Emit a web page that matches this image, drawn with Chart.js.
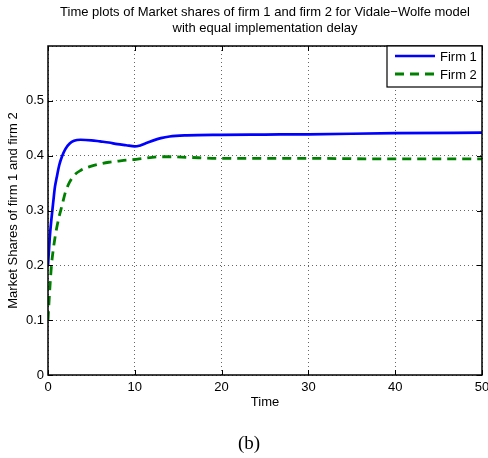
<!DOCTYPE html>
<html>
<head>
<meta charset="utf-8">
<script src="https://cdn.jsdelivr.net/npm/chart.js@4.4.0/dist/chart.umd.min.js"></script>
<style>
  body { margin: 0; background: #fff; }
  canvas { display: block; }
</style>
</head>
<body>
<canvas id="sharesChart" width="488" height="458"></canvas>
<script>
// Data
const times = [0, 0.2, 0.4, 0.6, 0.8, 1, 1.3, 1.6, 2, 2.5, 3, 3.75, 5, 6, 7, 8, 9, 10, 10.5, 11, 12, 13, 14, 16, 20, 25, 30, 40, 50];
const firm1 = [0.2, 0.25, 0.285, 0.315, 0.343, 0.36, 0.383, 0.398, 0.412, 0.422, 0.427, 0.429, 0.428, 0.426, 0.424, 0.421, 0.419, 0.417, 0.418, 0.421, 0.427, 0.432, 0.435, 0.437, 0.438, 0.4385, 0.439, 0.441, 0.442];
const firm2 = [0.1, 0.155, 0.2, 0.228, 0.25, 0.268, 0.29, 0.308, 0.333, 0.352, 0.364, 0.373, 0.381, 0.385, 0.388, 0.39, 0.392, 0.393, 0.394, 0.395, 0.397, 0.398, 0.398, 0.397, 0.395, 0.395, 0.395, 0.394, 0.394];
const seriesNames = ["Firm 1", "Firm 2"];
const xTicks = [0, 10, 20, 30, 40, 50];
const yTicks = [0, 0.1, 0.2, 0.3, 0.4, 0.5];

const FONT = "Liberation Sans, Arial, Helvetica, sans-serif";

const toPoints = (vals) => vals.map((v, i) => ({ x: times[i], y: v }));

// box, inward ticks, legend and caption (MATLAB look)
const matlabFrame = {
  id: "matlabFrame",
  afterDatasetsDraw(chart) {
    const { ctx, chartArea: a, scales } = chart;
    ctx.save();
    ctx.strokeStyle = "#000";
    ctx.lineWidth = 1;
    const tick = 5;
    ctx.beginPath();
    xTicks.forEach((t) => {
      const px = Math.round(scales.x.getPixelForValue(t)) + 0.5;
      ctx.moveTo(px, a.bottom); ctx.lineTo(px, a.bottom - tick);
      ctx.moveTo(px, a.top); ctx.lineTo(px, a.top + tick);
    });
    yTicks.forEach((t) => {
      const py = Math.round(scales.y.getPixelForValue(t)) + 0.5;
      ctx.moveTo(a.left, py); ctx.lineTo(a.left + tick, py);
      ctx.moveTo(a.right, py); ctx.lineTo(a.right - tick, py);
    });
    ctx.stroke();
    ctx.lineWidth = 1.5;
    ctx.strokeRect(a.left, a.top, a.right - a.left, a.bottom - a.top);

    // legend
    const lw = 95, lh = 41;
    const lx = a.right - lw, ly = a.top;
    ctx.fillStyle = "#fff";
    ctx.fillRect(lx, ly, lw, lh);
    ctx.lineWidth = 1.2;
    ctx.strokeRect(lx, ly, lw, lh);
    const ds = chart.data.datasets;
    ds.forEach((d, i) => {
      const y = ly + 10 + i * 18;
      ctx.beginPath();
      ctx.strokeStyle = d.borderColor;
      ctx.lineWidth = d.borderWidth;
      ctx.setLineDash(d.borderDash || []);
      ctx.moveTo(lx + 8, y);
      ctx.lineTo(lx + 48, y);
      ctx.stroke();
      ctx.setLineDash([]);
      ctx.fillStyle = "#000";
      ctx.font = "13px " + FONT;
      ctx.textBaseline = "middle";
      ctx.textAlign = "left";
      ctx.fillText(d.label, lx + 53, y + 1);
    });

    // sub-figure caption
    ctx.font = "19px Liberation Serif, Times New Roman, serif";
    ctx.textAlign = "center";
    ctx.textBaseline = "middle";
    ctx.fillText("(b)", 249, 444);
    ctx.restore();
  },
};

const ctx = document.getElementById("sharesChart").getContext("2d");

new Chart(ctx, {
  type: "line",
  data: {
    datasets: [
      {
        label: seriesNames[0],
        data: toPoints(firm1),
        borderColor: "#0000ff",
        borderWidth: 2.7,
        pointRadius: 0,
        cubicInterpolationMode: "monotone",
      },
      {
        label: seriesNames[1],
        data: toPoints(firm2),
        borderColor: "#008000",
        borderWidth: 2.8,
        borderDash: [9, 6],
        pointRadius: 0,
        cubicInterpolationMode: "monotone",
      },
    ],
  },
  options: {
    responsive: false,
    animation: false,
    layout: { padding: { top: 0, right: 6, bottom: 40, left: 0 } },
    plugins: {
      legend: { display: false },
      tooltip: { enabled: false },
      title: {
        display: true,
        fullSize: false,
        text: [
          "Time plots of Market shares of firm 1 and firm 2 for Vidale\u2212Wolfe model",
          "with equal implementation delay",
        ],
        color: "#000",
        font: { family: FONT, size: 13, weight: "normal", lineHeight: 1.25 },
        padding: { top: 4, bottom: 9.5 },
      },
    },
    scales: {
      x: {
        type: "linear",
        min: 0,
        max: 50,
        ticks: {
          stepSize: 10,
          color: "#000",
          font: { family: FONT, size: 13 },
          padding: 5,
          maxRotation: 0,
        },
        grid: {
          color: "rgba(0,0,0,0.6)",
          lineWidth: 1,
          drawTicks: false,
        },
        border: { display: false, dash: [1, 3] },
        title: {
          display: true,
          text: "Time",
          color: "#000",
          font: { family: FONT, size: 13 },
          padding: { top: 2, bottom: 8 },
        },
        afterFit(scale) {
          scale.height = 43;
          scale.paddingLeft = 0;
          scale.paddingRight = 0;
        },
      },
      y: {
        min: 0,
        max: 0.6,
        ticks: {
          stepSize: 0.1,
          color: "#000",
          font: { family: FONT, size: 13 },
          padding: 4,
          callback: (v) => (v > 0.55 ? "" : String(Number(v.toFixed(1)))),
        },
        grid: {
          color: "rgba(0,0,0,0.6)",
          lineWidth: 1,
          drawTicks: false,
        },
        border: { display: false, dash: [1, 3] },
        title: {
          display: true,
          text: "Market Shares of firm 1 and firm 2",
          color: "#000",
          font: { family: FONT, size: 13 },
          padding: { top: 6, bottom: 0 },
        },
        afterFit(scale) {
          scale.width = 48;
          scale.paddingTop = 0;
          scale.paddingBottom = 0;
        },
      },
    },
  },
  plugins: [matlabFrame],
});
</script>
</body>
</html>
